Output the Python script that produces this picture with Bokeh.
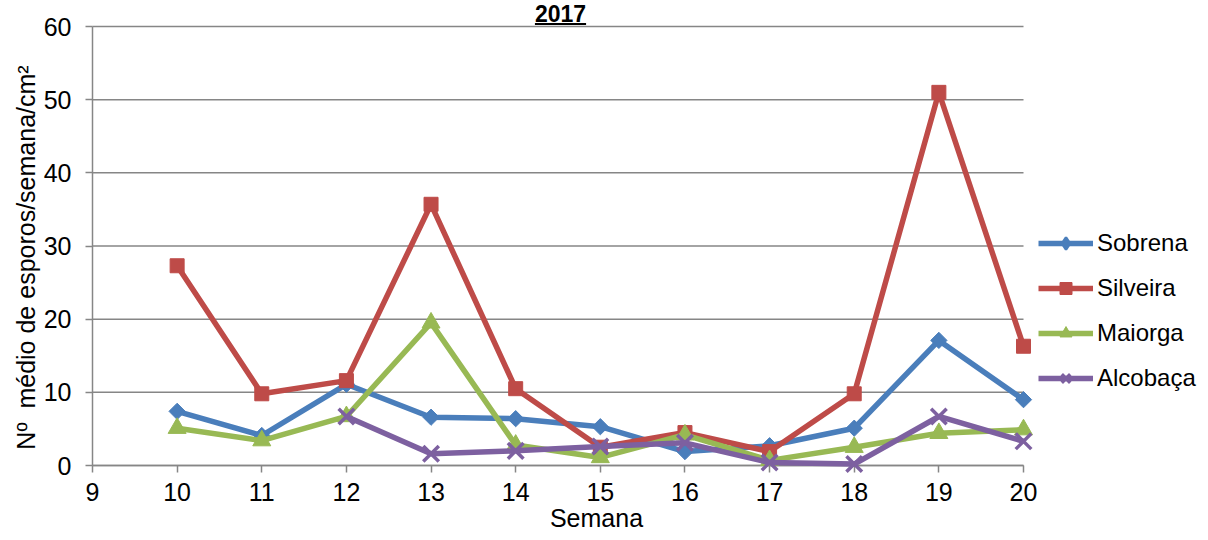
import math
import numpy as np
from bokeh.plotting import figure
from bokeh.models import Range1d, FixedTicker, Legend, LegendItem
from bokeh.core.properties import value
from bokeh.embed import file_html
from bokeh.resources import INLINE

# ---- data -------------------------------------------------------------
semanas = [10, 11, 12, 13, 14, 15, 16, 17, 18, 19, 20]
sobrena = [7.4, 4.1, 11.1, 6.6, 6.4, 5.3, 1.9, 2.7, 5.1, 17.1, 9.0]
silveira = [27.3, 9.8, 11.6, 35.7, 10.5, 2.5, 4.5, 1.9, 9.8, 51.0, 16.3]
maiorga = [5.1, 3.4, 6.7, 19.5, 2.8, 1.1, 4.2, 0.7, 2.5, 4.4, 4.9]
alcobaca = [np.nan, np.nan, 6.7, 1.6, 2.0, 2.6, 3.1, 0.4, 0.2, 6.7, 3.3]

x_ticks = [9, 10, 11, 12, 13, 14, 15, 16, 17, 18, 19, 20]
y_ticks = [0, 10, 20, 30, 40, 50, 60]

titulo = "2017"
eixo_x = "Semana"
eixo_y = "Nº\u00a0 médio de esporos/semana/cm²"

FONT = "Liberation Sans"
GRAY = "#868686"

# ---- layout (pixels) ----------------------------------------------------
W, H = 1200, 532
PLOT_L, PLOT_R, PLOT_B, PLOT_T = 92, 1023, 465, 26   # plot area in pixels
x0, x1 = 9, 20
y0, y1 = 0, 60
px_per_x = (PLOT_R - PLOT_L) / (x1 - x0)
px_per_y = (PLOT_B - PLOT_T) / (y1 - y0)


def xdata(px):
    return x0 + (px - PLOT_L) / px_per_x


def ydata(py):
    return y0 + (PLOT_B - py) / px_per_y


# the frame covers the whole figure; axes sit at fixed data locations
p = figure(width=W, height=H, output_backend="svg", toolbar_location=None,
           x_range=Range1d(xdata(0), xdata(W)), y_range=Range1d(ydata(H), ydata(0)),
           min_border_left=0, min_border_right=0,
           min_border_top=0, min_border_bottom=0)
p.outline_line_color = None
p.background_fill_color = "white"
p.border_fill_color = "white"
p.xgrid.visible = False
p.ygrid.visible = False

# horizontal gridlines across the plot area only
p.segment(x0=[x0] * len(y_ticks), x1=[x1] * len(y_ticks), y0=y_ticks, y1=y_ticks,
          line_color=GRAY, line_width=1.5, level="underlay")

for ax in (p.xaxis[0], p.yaxis[0]):
    ax.axis_line_color = GRAY
    ax.axis_line_width = 1.5
    ax.major_tick_line_color = GRAY
    ax.major_tick_line_width = 1.5
    ax.major_tick_out = 7
    ax.major_tick_in = 0
    ax.minor_tick_line_color = None
    ax.major_label_text_font = FONT
    ax.major_label_text_font_size = "25px"
    ax.major_label_text_color = "black"
    ax.level = "underlay"

p.xaxis.ticker = FixedTicker(ticks=x_ticks)
p.yaxis.ticker = FixedTicker(ticks=y_ticks)
p.xaxis.bounds = (x0, x1)
p.yaxis.bounds = (y0, y1)
p.xaxis.fixed_location = y0
p.yaxis.fixed_location = x0
p.xaxis.major_label_standoff = 10
p.yaxis.major_label_standoff = 14

# (name, values, colour, marker, size, angle, legend marker)
series = [
    ("Sobrena", sobrena, "#4A7EBB", "square", 11.5, math.pi / 4, "diamond"),
    ("Silveira", silveira, "#BE4B48", "square", 14, 0.0, "square"),
    ("Maiorga", maiorga, "#98B954", "triangle", 18, 0.0, "triangle"),
    ("Alcobaça", alcobaca, "#7D60A0", "x", 22, 0.0, "x"),
]

items = []
for name, vals, color, marker, size, ang, leg_marker in series:
    r1 = p.line(semanas, vals, line_color=color, line_width=5.5)
    if marker == "x":
        r2 = p.scatter(semanas, vals, marker=marker, size=size,
                       line_color=color, line_width=3.5)
    else:
        r2 = p.scatter(semanas, vals, marker=marker, size=size, angle=ang,
                       fill_color=color, line_color=color)
    rends = [r1, r2]
    if leg_marker != marker:
        # legend-only marker (the legend cannot rotate a square into a diamond);
        # its single point is NaN, so nothing is drawn in the plot area
        r3 = p.scatter(x=[np.nan], y=[np.nan], marker=leg_marker, size=size,
                       fill_color=color, line_color=color, line_width=2.5)
        rends = [r1, r3]
    items.append(LegendItem(label=name, renderers=rends))

legend = Legend(items=items, location=(1038, H - 393), padding=0, margin=0,
                border_line_color=None, background_fill_alpha=0,
                glyph_width=55, glyph_height=30, label_height=30,
                label_standoff=4, spacing=15,
                label_text_font=FONT, label_text_font_size="24px",
                label_text_color="black")
p.add_layout(legend, "center")

# title: bold and underlined, above the top gridline
tx = xdata(560)
p.text(x=[tx], y=[ydata(13)], text=[titulo], text_align="center",
       text_baseline="middle", text_font=value(FONT),
       text_font_size=value("23px"), text_font_style="bold", text_color="black")
half_w = 4 * 0.556 * 23 / 2 / px_per_x
p.quad(left=[tx - half_w], right=[tx + half_w], top=[ydata(22.5)],
       bottom=[ydata(24.5)], fill_color="black", line_color=None)

# axis titles
p.text(x=[xdata(596)], y=[ydata(517)], text=[eixo_x], text_align="center",
       text_baseline="middle", text_font=value(FONT),
       text_font_size=value("25px"), text_color="black")
p.text(x=[xdata(25)], y=[ydata(257)], text=[eixo_y], angle=math.pi / 2,
       text_align="center", text_baseline="middle", text_font=value(FONT),
       text_font_size=value("25px"), text_color="black")

open("out.html", "w").write(file_html(p, INLINE))
